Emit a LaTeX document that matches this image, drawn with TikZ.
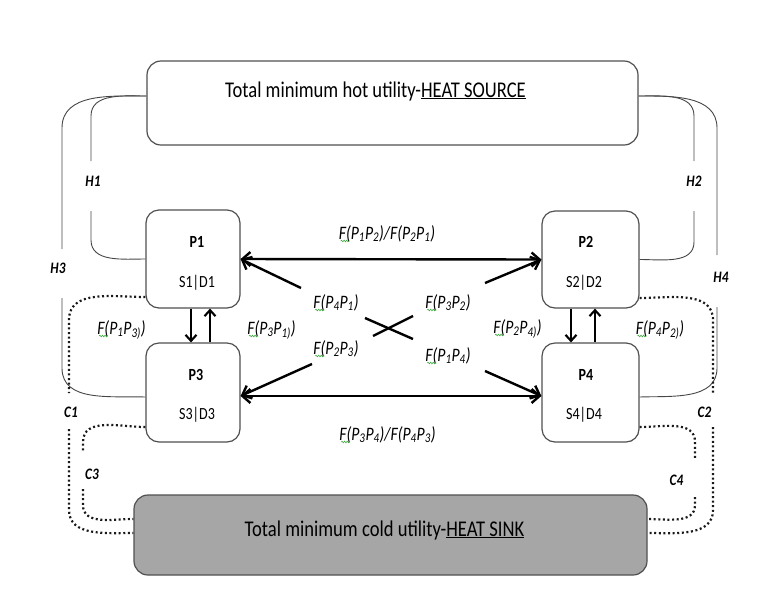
\documentclass[tikz,border=0pt]{standalone}
\usepackage{fontspec}
\setmainfont{Carlito}[FakeStretch=0.826]
\usetikzlibrary{arrows.meta,decorations.pathmorphing}
\definecolor{boxgray}{RGB}{80,80,80}
\definecolor{linegray}{RGB}{70,70,70}
\definecolor{coldfill}{RGB}{166,166,166}
\definecolor{squiggreen}{RGB}{60,170,60}
\tikzset{
  bigbox/.style={draw=boxgray, line width=1.2pt, rounded corners=14pt, inner sep=0pt},
  pbox/.style={draw=boxgray, line width=1.2pt, rounded corners=13pt, fill=white, inner sep=0pt},
  conn/.style={draw=linegray, line width=0.9pt},
  dotc/.style={draw=black!90, line width=2.2pt, dash pattern=on 2pt off 2.6pt, line cap=butt},
  flow/.style={line width=2.4pt, -{Straight Barb[length=8pt,width=14pt]}},
  flowtwo/.style={line width=2.4pt, {Straight Barb[length=8pt,width=14pt]}-{Straight Barb[length=8pt,width=14pt]}},
  vflow/.style={line width=2.1pt, -{Straight Barb[length=6pt,width=11pt]}},
  xline/.style={line width=2.4pt},
  maintxt/.style={font=\fontsize{22.5}{27}\selectfont, inner sep=0pt, anchor=base},
  ptxt/.style={font=\fontsize{17}{20}\selectfont\bfseries, inner sep=0pt, anchor=base},
  sdtxt/.style={font=\fontsize{17}{20}\selectfont, inner sep=0pt, anchor=base},
  flab/.style={font=\fontsize{19}{22}\selectfont\itshape, inner sep=0pt, anchor=base},
  hlab/.style={font=\fontsize{16}{19}\selectfont\bfseries\itshape, inner sep=0pt, anchor=base},
  squig/.style={draw=squiggreen, line width=0.6pt, decorate, decoration={snake, segment length=2.6pt, amplitude=0.8pt}}
}
\begin{document}
\begin{tikzpicture}[x=1pt,y=-1pt]
\useasboundingbox (0,0) rectangle (770,590);

% utility boxes
\node[bigbox, fill=white, minimum width=491pt, minimum height=84pt] (hot) at (392.5,103) {};
\node[bigbox, fill=coldfill, minimum width=513pt, minimum height=80pt] (cold) at (390.5,535) {};
\node[maintxt] (hottxt) at (375.5,97) {Total minimum hot utility-\underline{HEAT SOURCE}};
\node[maintxt] (coldtxt) at (384.5,536) {Total minimum cold utility-\underline{HEAT SINK}};

% process boxes
\node[pbox, minimum width=94pt, minimum height=98pt] (P1) at (193,259) {};
\node[pbox, minimum width=94pt, minimum height=99pt] (P3) at (193,392.5) {};
\node[pbox, minimum width=97pt, minimum height=97pt] (P2) at (590.5,259.5) {};
\node[pbox, minimum width=97pt, minimum height=99pt] (P4) at (590.5,392.5) {};

\node[ptxt] (P1t) at (197,247) {P1};
\node[sdtxt] (P1s) at (197,287) {S1|D1};
\node[ptxt] (P3t) at (196,380) {P3};
\node[sdtxt] (P3s) at (197,419) {S3|D3};
\node[ptxt] (P2t) at (586,247) {P2};
\node[sdtxt] (P2s) at (584,287) {S2|D2};
\node[ptxt] (P4t) at (586,380) {P4};
\node[sdtxt] (P4s) at (584,419) {S4|D4};

% free ends of connectors
\coordinate (h1a) at (91,161);  \coordinate (h1b) at (91,211);
\coordinate (h3a) at (62,249);  \coordinate (h3b) at (62,298);
\coordinate (h2a) at (694,161); \coordinate (h2b) at (694,211);
\coordinate (h4a) at (717,255); \coordinate (h4b) at (717,307);
\coordinate (c1a) at (69,393);  \coordinate (c1b) at (69,429);
\coordinate (c3a) at (83,452);  \coordinate (c3b) at (83,489);
\coordinate (c2a) at (713,393); \coordinate (c2b) at (713,427);
\coordinate (c4a) at (695,460); \coordinate (c4b) at (695,497);

% hot utility connectors
\draw[conn] ([yshift=7pt]hot.west) to[out=180,in=90] (91,116) -- (h1a);
\draw[conn] (h1b) -- (91,240) to[out=-90,in=180] (P1.west);
\draw[conn] ([yshift=7pt]hot.west) to[out=180,in=90] (62,128) -- (h3a);
\draw[conn] (h3b) -- (62,368) to[out=-90,in=178] ([yshift=-4.5pt]P3.west);
\draw[conn] ([yshift=7pt]hot.east) to[out=0,in=90] (694,116) -- (h2a);
\draw[conn] (h2b) -- (694,242) to[out=-90,in=0] (P2.east);
\draw[conn] ([yshift=7pt]hot.east) to[out=0,in=90] (717,128) -- (h4a);
\draw[conn] (h4b) -- (717,368) to[out=-90,in=2] ([yshift=-4.5pt]P4.east);

% cold utility connectors
\draw[dotc] ([yshift=-38pt]P1.west) to[out=180,in=90] (69,320) -- (c1a);
\draw[dotc] (c1b) -- (69,510) to[out=-90,in=180] ([yshift=2pt]cold.west);
\draw[dotc] ([yshift=-34.5pt]P3.west) to[out=180,in=90] (83,442) -- (c3a);
\draw[dotc] (c3b) -- (83,505) to[out=-90,in=180] ([yshift=16pt]cold.west);
\draw[dotc] ([yshift=-38.5pt]P2.east) to[out=0,in=90] (713,320) -- (c2a);
\draw[dotc] (c2b) -- (713,510) to[out=-90,in=0] ([yshift=2pt]cold.east);
\draw[dotc] ([yshift=-34.5pt]P4.east) to[out=0,in=90] (695,442) -- (c4a);
\draw[dotc] (c4b) -- (695,505) to[out=-90,in=0] ([yshift=16pt]cold.east);

% heat flows
\draw[flowtwo] (P1.east) -- (P2.west);
\draw[flowtwo] ([yshift=-3.5pt]P3.east) -- ([yshift=-3.5pt]P4.west);
\coordinate (d1) at (301,288); \coordinate (d2) at (485,283);
\coordinate (d3) at (312,364); \coordinate (d4) at (485,371);
\draw[flow] (d1) -- (P1.east);
\draw[flow] (d2) -- (P2.west);
\draw[flow] (d3) -- ([yshift=-3.5pt]P3.east);
\draw[flow] (d4) -- ([yshift=-3.5pt]P4.west);
\coordinate (x1) at (365,318); \coordinate (x2) at (413,339);
\coordinate (x3) at (373,336); \coordinate (x4) at (413,316);
\draw[xline] (x1) -- (x2);
\draw[xline] (x3) -- (x4);

\draw[vflow] ([xshift=-2pt]P1.south) -- ([xshift=-2pt]P3.north);
\draw[vflow] ([xshift=17pt]P3.north) -- ([xshift=17pt]P1.south);
\draw[vflow] ([xshift=-19.5pt]P2.south) -- ([xshift=-19.5pt]P4.north);
\draw[vflow] ([xshift=4.5pt]P4.north) -- ([xshift=4.5pt]P2.south);

% flow labels
\node[flab] (f12) at (387,239) {F(P\textsubscript{1}P\textsubscript{2})/F(P\textsubscript{2}P\textsubscript{1})};
\node[flab] (f34) at (387.5,440) {F(P\textsubscript{3}P\textsubscript{4})/F(P\textsubscript{4}P\textsubscript{3})};
\node[flab] (f41) at (336,308) {F(P\textsubscript{4}P\textsubscript{1})};
\node[flab] (f32) at (448,308) {F(P\textsubscript{3}P\textsubscript{2})};
\node[flab] (f23) at (336,354) {F(P\textsubscript{2}P\textsubscript{3})};
\node[flab] (f14) at (448,361) {F(P\textsubscript{1}P\textsubscript{4})};
\node[flab] (f31) at (271.5,334) {F(P\textsubscript{3}P\textsubscript{1)})};
\node[flab] (f24) at (517.5,333) {F(P\textsubscript{2}P\textsubscript{4)})};
\node[flab] (f13) at (121.5,334) {F(P\textsubscript{1}P\textsubscript{3)})};
\node[flab] (f42) at (660,334) {F(P\textsubscript{4}P\textsubscript{2)})};
\foreach \n in {f12,f34,f41,f32,f23,f14,f31,f24,f13,f42}
  \draw[squig] ([xshift=2pt,yshift=-2pt]\n.base west) -- ++(9pt,0);

% utility labels
\node[hlab] (H1) at (93,186) {H1};
\node[hlab] (H3) at (58,273) {H3};
\node[hlab] (H2) at (694,186) {H2};
\node[hlab] (H4) at (721,282) {H4};
\node[hlab] (C1) at (71,417) {C1};
\node[hlab] (C3) at (92,479) {C3};
\node[hlab] (C2) at (704.5,417) {C2};
\node[hlab] (C4) at (676.5,485) {C4};
\end{tikzpicture}
\end{document}
